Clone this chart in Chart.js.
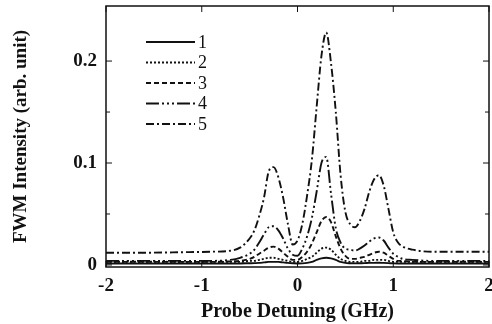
<!DOCTYPE html>
<html lang="en">
<head>
<meta charset="UTF-8">
<title>FWM Intensity vs Probe Detuning</title>
<script src="https://cdn.jsdelivr.net/npm/chart.js"></script>
<style>
  html, body { margin: 0; padding: 0; background: #fff; }
  #wrap { width: 492px; height: 324px; }
</style>
</head>
<body>
<div id="wrap"><canvas id="fwm" width="492" height="324"></canvas></div>
<script>
// probe detuning (GHz)
const detuning = [-2, -1.6, -1.2, -0.9, -0.7, -0.6, -0.5, -0.45, -0.4, -0.35, -0.3, -0.25, -0.2, -0.15, -0.1, -0.05,
  0, 0.05, 0.1, 0.15, 0.2, 0.25, 0.3, 0.35, 0.4, 0.45, 0.5, 0.55, 0.6, 0.65, 0.7, 0.75, 0.8, 0.85, 0.9, 0.95,
  1.0, 1.05, 1.1, 1.2, 1.4, 1.7, 2.0];

// FWM intensity (arb. unit), curves 1..5
const curve1 = [0.0015, 0.0015, 0.0015, 0.0015, 0.0015, 0.0015, 0.0017, 0.0018, 0.002, 0.0025, 0.003, 0.003, 0.003, 0.0025, 0.002, 0.0017,
  0.0015, 0.0016, 0.002, 0.003, 0.005, 0.0065, 0.007, 0.0065, 0.005, 0.003, 0.002, 0.0017, 0.0016, 0.0017, 0.0018, 0.002, 0.002, 0.0022, 0.002, 0.0018,
  0.0016, 0.0015, 0.0015, 0.0015, 0.0015, 0.0015, 0.0015];
const curve2 = [0.003, 0.0032, 0.003, 0.003, 0.003, 0.003, 0.004, 0.004, 0.005, 0.006, 0.007, 0.007, 0.006, 0.005, 0.004, 0.003,
  0.003, 0.004, 0.006, 0.008, 0.012, 0.016, 0.017, 0.015, 0.010, 0.006, 0.004, 0.003, 0.003, 0.003, 0.004, 0.004, 0.005, 0.005, 0.005, 0.004,
  0.003, 0.003, 0.003, 0.003, 0.003, 0.0032, 0.003];
const curve3 = [0.003, 0.003, 0.003, 0.003, 0.0035, 0.004, 0.006, 0.008, 0.011, 0.014, 0.017, 0.018, 0.016, 0.012, 0.008, 0.005,
  0.005, 0.008, 0.013, 0.021, 0.032, 0.043, 0.047, 0.042, 0.028, 0.016, 0.009, 0.006, 0.006, 0.007, 0.008, 0.010, 0.012, 0.013, 0.012, 0.009,
  0.006, 0.004, 0.004, 0.003, 0.003, 0.003, 0.003];
const curve4 = [0.004, 0.004, 0.004, 0.004, 0.005, 0.007, 0.011, 0.015, 0.022, 0.030, 0.037, 0.038, 0.034, 0.026, 0.016, 0.010,
  0.009, 0.016, 0.028, 0.046, 0.072, 0.100, 0.106, 0.070, 0.036, 0.022, 0.016, 0.015, 0.014, 0.016, 0.019, 0.023, 0.026, 0.027, 0.024, 0.017,
  0.011, 0.008, 0.006, 0.005, 0.004, 0.004, 0.004];
const curve5 = [0.012, 0.012, 0.0125, 0.013, 0.014, 0.017, 0.026, 0.034, 0.048, 0.066, 0.092, 0.096, 0.086, 0.066, 0.040, 0.020,
  0.024, 0.040, 0.068, 0.103, 0.155, 0.205, 0.228, 0.198, 0.150, 0.088, 0.052, 0.040, 0.037, 0.043, 0.055, 0.072, 0.084, 0.088, 0.078, 0.055,
  0.032, 0.022, 0.018, 0.015, 0.013, 0.013, 0.013];

const seriesLabels = ['1', '2', '3', '4', '5'];
const xTicks = [-2, -1, 0, 1, 2];
const yTicks = [0, 0.1, 0.2];
const yMinorTicks = [0.05, 0.15];

const dashes = [[], [2, 2], [5, 3], [13, 3, 2, 3, 2, 3, 2, 3], [8, 3, 2, 3]];
const curves = [curve1, curve2, curve3, curve4, curve5];

const serif = '"Liberation Serif", "DejaVu Serif", serif';

// frame, inward ticks and the legend drawn on top of the plot
const framePlugin = {
  id: 'frame',
  afterDraw(chart) {
    const { ctx, chartArea: a, scales } = chart;
    ctx.save();
    ctx.strokeStyle = '#111';
    ctx.lineWidth = 1.5;
    ctx.setLineDash([]);
    ctx.strokeRect(a.left, a.top, a.right - a.left, a.bottom - a.top);
    ctx.lineWidth = 1;
    xTicks.forEach(v => {
      const x = scales.x.getPixelForValue(v);
      ctx.beginPath();
      ctx.moveTo(x, a.top); ctx.lineTo(x, a.top + 6);
      ctx.moveTo(x, a.bottom); ctx.lineTo(x, a.bottom - 6);
      ctx.stroke();
    });
    yTicks.concat(yMinorTicks).forEach(v => {
      const y = scales.y.getPixelForValue(v);
      const len = yTicks.includes(v) ? 6 : 4;
      ctx.beginPath();
      ctx.moveTo(a.left, y); ctx.lineTo(a.left + len, y);
      ctx.moveTo(a.right, y); ctx.lineTo(a.right - len, y);
      ctx.stroke();
    });
    // legend
    ctx.font = '18px ' + serif;
    ctx.fillStyle = '#111';
    ctx.textBaseline = 'middle';
    chart.data.datasets.forEach((ds, i) => {
      const y = 42 + i * 20.5;
      ctx.strokeStyle = '#111';
      ctx.lineWidth = 1.8;
      ctx.setLineDash(ds.borderDash);
      ctx.beginPath();
      ctx.moveTo(146, y); ctx.lineTo(195, y);
      ctx.stroke();
      ctx.setLineDash([]);
      ctx.fillText(ds.label, 198, y + 1);
    });
    ctx.restore();
  }
};

new Chart(document.getElementById('fwm'), {
  type: 'line',
  data: {
    datasets: curves.map((c, i) => ({
      label: seriesLabels[i],
      data: detuning.map((x, j) => ({ x, y: c[j] })),
      borderColor: '#111',
      borderWidth: 1.9,
      borderDash: dashes[i],
      pointRadius: 0,
      fill: false,
      cubicInterpolationMode: 'monotone'
    }))
  },
  options: {
    responsive: false,
    animation: false,
    layout: { padding: { top: 6, right: 3, left: 0, bottom: 0 } },
    plugins: { legend: { display: false }, tooltip: { enabled: false } },
    scales: {
      x: {
        type: 'linear',
        min: -2, max: 2,
        afterBuildTicks: s => { s.ticks = xTicks.map(v => ({ value: v })); },
        afterFit: s => { s.height = 57; s.paddingLeft = 0; s.paddingRight = 0; },
        grid: { display: false, drawTicks: false },
        border: { display: false },
        ticks: {
          padding: 8,
          color: '#111',
          font: { family: serif, size: 19, weight: 'bold' },
          callback: v => String(v)
        },
        title: {
          display: true,
          text: 'Probe Detuning (GHz)',
          color: '#111',
          padding: { top: 0, bottom: 0 },
          font: { family: serif, size: 20, weight: 'bold' }
        }
      },
      y: {
        min: -0.002, max: 0.254,
        afterBuildTicks: s => { s.ticks = yTicks.map(v => ({ value: v })); },
        afterFit: s => { s.width = 106; s.paddingTop = 0; s.paddingBottom = 0; },
        grid: { display: false, drawTicks: false },
        border: { display: false },
        ticks: {
          padding: 9,
          color: '#111',
          font: { family: serif, size: 19, weight: 'bold' },
          callback: v => (v === 0 ? '0' : v.toFixed(1))
        },
        title: {
          display: true,
          text: 'FWM Intensity (arb. unit)',
          color: '#111',
          padding: { top: 10, bottom: 0 },
          font: { family: serif, size: 19, weight: 'bold' }
        }
      }
    }
  },
  plugins: [framePlugin]
});
</script>
</body>
</html>
